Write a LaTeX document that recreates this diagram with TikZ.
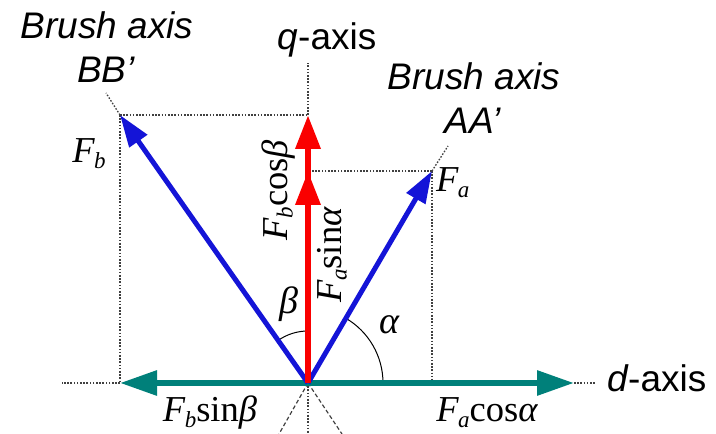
\documentclass[tikz,border=0pt]{standalone}
\usepackage{fontspec}
\setmainfont{Liberation Sans}
\newfontfamily\tms{Liberation Serif}
\usetikzlibrary{arrows.meta}
\definecolor{tealv}{RGB}{0,128,122}
\definecolor{bluev}{RGB}{20,20,215}
\definecolor{redv}{RGB}{250,0,0}
\newcommand\Fsub[1]{{\itshape F}\kern-0.5pt\raisebox{-5.5pt}{\fontsize{23}{23}\selectfont\itshape #1}}
\begin{document}
\begin{tikzpicture}[x=1pt,y=1pt]
\useasboundingbox (0,0) rectangle (716,434);
\tikzset{
  guide/.style={line width=1.3pt, black!75, dash pattern=on 1.6pt off 1.6pt},
  ext/.style={line width=1.2pt, black!75, dash pattern=on 4pt off 2.5pt},
  bluevec/.style={bluev, line width=5pt, -{Triangle[length=32pt,width=21pt]}},
  redvec/.style={redv, line width=6.5pt, -{Triangle[length=34pt,width=24pt]}},
  tealvec/.style={tealv, line width=6pt, -{Triangle[length=37pt,width=24pt]}},
  anglearc/.style={line width=1pt, black},
  sanslab/.style={font=\fontsize{37}{42}\selectfont, inner sep=0pt, anchor=base},
  sansit/.style={font=\fontsize{37}{42}\selectfont\itshape, inner sep=0pt, anchor=base},
  serlab/.style={font=\tms\fontsize{36.5}{42}\selectfont, inner sep=0pt, anchor=base},
  greeklab/.style={font=\tms\itshape\fontsize{38}{42}\selectfont, inner sep=0pt, anchor=base},
}
% key points
\coordinate (O) at (308,51);
\coordinate (B) at (120,319);
\coordinate (A) at (432,263);
\coordinate (Q1) at (308,319);
\coordinate (Q2) at (308,263);
\coordinate (DL) at (120,51);
\coordinate (DR) at (574,51);
\coordinate (DA) at (432,51);
\coordinate (Qtop) at (308,371);
\coordinate (Btop) at (106,341);
\coordinate (Atop) at (448,288);
\coordinate (DLend) at (62,51);
\coordinate (DRend) at (596,51);
\coordinate (Bbot) at (342,0);
\coordinate (Abot) at (279,0);
\coordinate (Qbot) at (308,0);

% guide lines
\draw[guide] (B) -- (DL);
\draw[guide] (A) -- (DA);
\draw[guide] (B) -- (Q1);
\draw[guide] (A) -- (Q2);
\draw[guide] (Q1) -- (Qtop);
\draw[guide] (B) -- (Btop);
\draw[guide] (A) -- (Atop);
\draw[guide] (DL) -- (DLend);
\draw[guide] (DR) -- (DRend);
\draw[ext] (O) -- (Bbot);
\draw[ext] (O) -- (Abot);
\draw[guide] (O) -- (Qbot);

% angle arcs
\draw[anglearc] ([shift={(90:52)}]O) arc[start angle=90, end angle=125, radius=52];
\draw[anglearc] ([shift={(0:75)}]O) arc[start angle=0, end angle=60, radius=75];

% vectors
\draw[tealvec] (O) -- (DL);
\draw[tealvec] (O) -- (DR);
\draw[bluevec] (O) -- (B);
\draw[bluevec] (O) -- (A);
\draw[redvec] (O) -- (Q1);
\draw[redvec] (O) -- (Q2);

% labels
\node[sansit] (bbl1) at (107,395) {Brush axis};
\node[sansit] (bbl2) at (106,351) {BB’};
\node[sansit] (aal1) at (474,344) {Brush axis};
\node[sansit] (aal2) at (473,300) {AA’};
\node[sanslab] (qlab) at (327,384) {{\itshape q}-axis};
\node[sanslab] (dlab) at (657,42) {{\itshape d}-axis};

\node[serlab] (fb) at (89,271) {\Fsub{b}};
\node[serlab, anchor=base west] (fa) at (436,242) {\Fsub{a}};
\node[serlab, rotate=90] (fbcos) at (287,244) {\Fsub{b}cos{\itshape β}};
\node[serlab, rotate=90] (fasin) at (341,179) {\Fsub{a}sin{\itshape α}};
\node[greeklab] (beta) at (289,120) {β};
\node[greeklab] (alpha) at (389,100) {α};
\node[serlab] (fbsin) at (210,12) {\Fsub{b}sin{\itshape β}};
\node[serlab] (facos) at (487,12) {\Fsub{a}cos{\itshape α}};
\end{tikzpicture}
\end{document}
